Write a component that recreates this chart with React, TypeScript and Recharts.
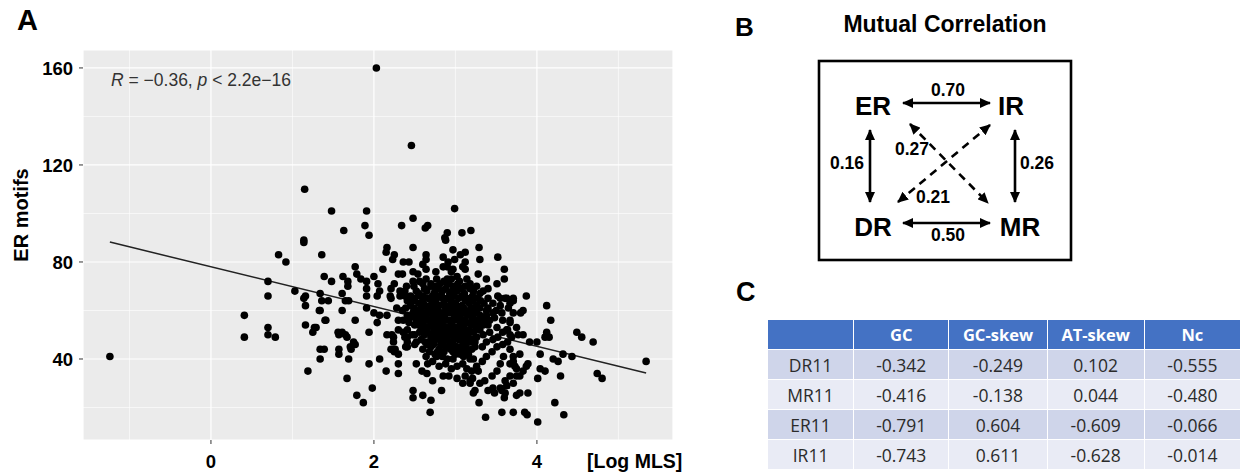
import React from 'react';
import { ScatterChart, Scatter, XAxis, YAxis, CartesianGrid, ReferenceLine } from 'recharts';

// panel A: ER motifs vs log MLS
const motifOutliers: [number, number][] = [
  [-1.24, 41], [2.03, 160], [2.46, 128], [1.15, 110], [1.48, 101], [1.91, 101], [1.63, 93], [1.89, 95],
  [1.94, 91], [2.34, 95], [2.48, 98], [1.14, 89], [2.99, 102], [2.63, 94], [2.66, 95], [2.90, 92],
  [3.08, 92], [3.19, 93], [2.87, 90], [5.34, 39],
];

const motifSpread: [number, number][] = [
  [0.83, 83], [0.92, 80], [0.70, 72], [0.70, 66], [0.41, 58], [0.41, 49], [0.70, 53], [0.70, 50],
  [0.79, 49], [1.03, 68], [1.14, 88], [1.16, 66], [1.14, 65], [1.16, 62], [1.16, 54], [1.27, 53],
  [1.25, 51], [1.19, 35], [1.34, 67], [1.36, 83], [1.39, 74], [1.48, 72], [1.34, 60], [1.36, 64],
  [1.44, 64], [1.41, 56], [1.34, 44], [1.39, 44], [1.34, 40], [1.57, 50], [1.65, 50], [1.67, 49],
  [1.57, 44], [1.57, 42], [1.69, 40], [1.72, 44], [1.77, 46], [1.67, 32], [1.79, 25], [1.87, 22],
  [1.77, 56], [1.61, 60], [1.61, 67], [1.62, 74], [1.68, 72], [1.68, 70], [1.69, 64], [1.65, 64],
  [1.77, 78], [1.79, 75], [1.84, 73], [1.91, 72], [1.91, 69], [1.91, 66], [1.91, 61], [1.94, 38],
  [1.94, 51], [1.98, 28], [2.00, 74], [2.04, 66], [2.05, 71], [2.07, 68], [2.00, 59], [2.07, 58],
  [2.04, 55], [2.07, 40], [2.15, 35], [2.11, 77], [2.16, 86], [2.15, 84], [2.16, 58], [2.16, 50],
  [2.21, 69], [2.21, 65], [2.25, 83], [2.23, 81], [2.24, 49], [2.30, 52], [2.21, 44], [2.26, 44],
  [2.30, 42], [2.30, 38], [2.30, 34], [2.30, 75], [2.35, 75], [2.36, 80], [2.43, 80], [2.32, 66],
  [2.38, 68], [2.39, 61], [2.41, 64], [2.36, 51], [2.41, 49], [2.39, 45], [2.48, 27], [2.48, 24],
  [2.48, 76], [2.48, 72], [2.48, 86], [2.52, 38], [2.50, 46], [2.64, 83], [2.64, 81], [2.64, 77],
  [2.85, 82], [2.88, 89], [2.54, 75], [2.25, 71], [2.49, 70], [2.64, 73], [2.77, 73], [2.81, 71],
  [2.75, 68], [2.90, 73], [2.90, 78], [2.20, 66], [2.32, 68], [2.38, 66], [2.60, 66], [2.72, 66],
  [2.83, 66], [2.97, 85], [3.12, 84], [3.06, 83], [2.99, 81], [3.29, 86], [3.30, 81], [3.52, 82],
  [2.97, 77], [3.09, 78], [3.12, 77], [3.60, 77], [3.60, 73], [3.28, 75], [3.38, 73], [3.51, 71],
  [3.40, 69], [3.02, 74], [3.03, 71], [2.97, 70], [3.12, 70], [3.18, 69], [3.26, 70], [3.08, 66],
  [3.21, 66], [3.34, 68], [3.52, 66], [3.61, 65], [3.71, 65], [3.87, 66], [4.12, 62], [4.17, 56],
  [4.12, 51], [4.10, 49], [4.15, 49], [4.49, 51], [4.55, 49], [4.69, 47], [3.91, 47], [3.83, 50],
  [3.67, 50], [4.04, 42], [4.20, 40], [4.26, 39], [4.32, 42], [4.43, 41], [4.74, 34], [4.80, 32],
  [4.04, 36], [4.10, 35], [4.01, 32], [4.29, 33], [4.22, 22], [4.33, 17], [4.01, 14], [3.88, 17],
  [3.85, 18], [3.71, 18], [3.57, 18], [3.37, 16], [3.29, 22], [3.22, 26], [2.69, 18], [2.70, 23],
  [2.60, 25], [2.83, 27], [3.75, 25], [3.89, 26], [3.79, 26], [3.60, 24], [3.61, 26], [3.83, 60],
  [3.80, 59], [3.67, 63], [3.71, 64], [3.55, 65], [3.63, 65], [3.67, 56], [3.75, 53], [3.64, 52],
  [3.79, 42], [3.71, 41], [3.73, 37], [3.83, 35], [3.89, 38], [3.75, 33], [3.67, 33], [3.61, 31],
  [3.55, 28], [3.46, 28], [2.85, 33], [2.92, 33], [3.02, 32], [3.09, 30], [3.18, 30], [3.21, 32],
  [2.72, 31], [2.59, 35], [2.65, 34], [2.77, 41], [2.72, 39], [2.22, 50], [2.25, 43], [2.30, 56],
  [2.41, 52], [2.38, 49], [2.47, 50], [2.41, 47], [2.41, 45], [2.52, 47], [2.24, 47], [2.56, 51],
  [2.59, 53], [2.63, 47], [2.41, 58], [2.48, 58], [2.50, 54], [1.61, 51], [1.75, 47], [1.71, 45],
  [1.29, 53], [1.33, 60], [1.40, 56], [1.56, 51], [3.77, 50], [3.87, 37], [3.79, 33], [3.67, 38],
  [3.75, 36], [3.71, 30], [3.63, 29], [3.57, 27], [3.48, 26], [3.40, 27], [3.71, 39], [3.67, 44],
  [3.59, 41], [3.55, 38], [3.51, 35], [3.45, 33], [3.36, 31], [3.30, 30], [3.24, 27], [3.18, 31],
  [3.12, 33], [3.20, 35], [3.26, 37], [3.33, 39], [3.38, 41], [3.45, 43], [3.51, 45], [3.58, 46],
  [3.64, 47], [3.69, 49], [3.09, 38], [3.18, 40], [3.06, 42], [3.14, 44], [3.24, 45], [3.33, 45],
  [3.38, 47], [3.46, 48], [3.52, 49], [3.58, 51], [3.63, 52], [3.67, 55], [3.58, 56], [3.57, 59],
  [3.65, 61], [3.55, 62], [3.51, 53], [3.42, 51], [3.34, 50], [3.26, 49], [3.18, 47], [3.09, 47],
  [3.02, 45], [2.97, 40], [2.95, 36], [3.42, 56], [3.34, 54], [3.26, 53], [3.18, 51], [3.09, 51],
  [3.46, 59], [3.38, 60], [3.30, 58], [3.21, 57], [3.14, 55], [3.06, 54], [3.71, 59], [4.00, 47],
  [3.12, 80], [2.91, 80], [2.85, 78], [2.60, 79], [2.76, 76], [2.95, 76],
];

const motifCore: [number, number][] = [
  [2.56, 72], [2.70, 71], [2.86, 72], [2.95, 73], [3.05, 72], [3.14, 73],
  [2.60, 71], [2.76, 70], [2.92, 71], [3.00, 70], [3.18, 71],
  [2.52, 68], [2.62, 69], [2.70, 70], [2.79, 69], [2.88, 69], [2.96, 68], [3.07, 69], [3.22, 68],
  [2.55, 67], [2.65, 68], [2.74, 67], [2.84, 68], [2.93, 67], [3.02, 68], [3.11, 67], [3.30, 67],
  [2.50, 65], [2.57, 66], [2.66, 65], [2.78, 66], [2.90, 65], [2.98, 66], [3.14, 65], [3.27, 65], [3.40, 65],
  [2.48, 64], [2.60, 64], [2.69, 65], [2.76, 64], [2.84, 65], [2.95, 64], [3.04, 65], [3.12, 64], [3.21, 64], [3.31, 64],
  [2.45, 62], [2.55, 63], [2.63, 62], [2.71, 63], [2.80, 62], [2.86, 63], [2.93, 62], [3.00, 63],
  [3.08, 62], [3.17, 63], [3.26, 62], [3.35, 63], [3.46, 63],
  [2.49, 61], [2.58, 61], [2.66, 61], [2.73, 62], [2.78, 61], [2.88, 61], [2.96, 61], [3.02, 61],
  [3.10, 61], [3.19, 61], [3.40, 61],
  [2.52, 60], [2.60, 59], [2.68, 60], [2.75, 60], [2.83, 59], [2.90, 60], [2.97, 59], [3.04, 60],
  [3.12, 60], [3.22, 60], [3.30, 61], [3.50, 60],
  [2.48, 59], [2.56, 58], [2.64, 58], [2.71, 59], [2.79, 58], [2.87, 58], [2.94, 59], [3.01, 58],
  [3.09, 59], [3.18, 59], [3.26, 59], [3.38, 58],
  [2.44, 57], [2.57, 57], [2.65, 56], [2.72, 57], [2.79, 56], [2.85, 57], [2.92, 56], [2.99, 57],
  [3.06, 57], [3.15, 58], [3.24, 56], [3.32, 57], [3.48, 57],
  [2.52, 56], [2.60, 55], [2.68, 56], [2.75, 55], [2.82, 55], [2.88, 56], [2.96, 55], [3.03, 56],
  [3.11, 56], [3.19, 55], [3.36, 56],
  [2.55, 54], [2.62, 53], [2.70, 54], [2.77, 53], [2.83, 54], [2.89, 53], [2.95, 54], [3.01, 53],
  [3.10, 54], [3.20, 54], [3.28, 55], [3.40, 54],
  [2.58, 52], [2.66, 53], [2.74, 52], [2.80, 53], [2.87, 52], [2.94, 52], [3.00, 52], [3.08, 52],
  [3.16, 52], [3.25, 53],
  [2.50, 50], [2.66, 51], [2.73, 50], [2.80, 51], [2.86, 50], [2.92, 51], [2.98, 50], [3.05, 51],
  [3.13, 50], [3.22, 51], [3.30, 52],
  [2.62, 50], [2.70, 49], [2.78, 49], [2.84, 49], [2.91, 50], [2.98, 49], [3.06, 49], [3.15, 49], [3.20, 48],
  [2.58, 48], [2.68, 47], [2.76, 48], [2.84, 47], [2.90, 48], [2.97, 47], [3.04, 48], [3.12, 48], [3.24, 47],
  [2.65, 46], [2.73, 46], [2.82, 46], [2.93, 46], [3.00, 45], [3.13, 46], [3.20, 44],
  [2.60, 44], [2.70, 45], [2.80, 44], [2.88, 45], [2.94, 44], [3.08, 45], [3.16, 42],
  [2.68, 43], [2.78, 43], [2.86, 43], [2.97, 43], [3.04, 43], [3.12, 43],
  [2.64, 41], [2.75, 42], [2.84, 41], [2.90, 40], [3.00, 42], [3.10, 41], [3.22, 40],
  [2.66, 38], [2.80, 37], [2.88, 38], [3.02, 37], [3.14, 36], [3.28, 35],
  [2.35, 60], [2.43, 55], [2.36, 56], [2.28, 61], [2.45, 66], [2.40, 70],
];

// linear fit drawn by ggplot (end points)
const fitLine = [
  { x: -1.24, y: 88.2 },
  { x: 5.34, y: 34.2 },
];

const xTicks = [0, 2, 4];
const yTicks = [40, 80, 120, 160];
const xMinor = [-1, 1, 3, 5];
const yMinor = [20, 60, 100, 140];

// panel B: mutual correlation
const corrPairs = [['ER', 'IR'], ['DR', 'MR'], ['ER', 'DR'], ['IR', 'MR'], ['ER', 'MR'], ['DR', 'IR']];
const corrValues = ['0.70', '0.50', '0.16', '0.26', '0.27', '0.21'];
const corrNodes = ['ER', 'IR', 'DR', 'MR'];

// panel C: table
const tableCols = ['GC', 'GC-skew', 'AT-skew', 'Nc'];
const tableRows = ['DR11', 'MR11', 'ER11', 'IR11'];
const gcVals = ['-0.342', '-0.416', '-0.791', '-0.743'];
const gcSkewVals = ['-0.249', '-0.138', '0.604', '0.611'];
const atSkewVals = ['0.102', '0.044', '-0.609', '-0.628'];
const ncVals = ['-0.555', '-0.480', '-0.066', '-0.014'];

const points = [...motifOutliers, ...motifSpread, ...motifCore].map(([x, y]) => ({ x, y }));

const dot = (p: any) => <circle cx={p.cx} cy={p.cy} r={3.8} fill="#000" />;

const arial = '"Liberation Sans", Arial, sans-serif';

function PanelA() {
  return (
    <div style={{ position: 'absolute', left: 0, top: 0 }}>
      <ScatterChart width={700} height={473} margin={{ top: 50, right: 27, left: 0, bottom: 0 }}>
        <CartesianGrid fill="#EBEBEB" stroke="#fff" strokeWidth={1.2} />
        {xMinor.map((v) => (
          <ReferenceLine key={'xm' + v} x={v} stroke="#fff" strokeWidth={0.6} />
        ))}
        {yMinor.map((v) => (
          <ReferenceLine key={'ym' + v} y={v} stroke="#fff" strokeWidth={0.6} />
        ))}
        <XAxis
          type="number"
          dataKey="x"
          domain={[-1.57, 5.67]}
          ticks={xTicks}
          allowDataOverflow
          axisLine={false}
          tickSize={4}
          tickMargin={11}
          height={33}
          tickLine={{ stroke: '#333' }}
          tick={{ fill: '#000', fontSize: 18.5, fontWeight: 700, fontFamily: arial }}
        />
        <YAxis
          type="number"
          dataKey="y"
          domain={[6.6, 167.4]}
          ticks={yTicks}
          allowDataOverflow
          axisLine={false}
          tickSize={4}
          tickMargin={6}
          width={83}
          tickLine={{ stroke: '#333' }}
          tick={{ fill: '#000', fontSize: 18.5, fontWeight: 700, fontFamily: arial }}
        />
        <Scatter data={points} shape={dot} isAnimationActive={false} />
        <ReferenceLine segment={fitLine} stroke="#222" strokeWidth={1.5} />
      </ScatterChart>
      <div style={{ position: 'absolute', left: 111, top: 70, fontFamily: arial, fontSize: 17.5, color: '#333', whiteSpace: 'nowrap' }}>
        <i>R</i> = −0.36, <i>p</i> &lt; 2.2e−16
      </div>
      <div
        style={{
          position: 'absolute', left: 21, top: 215, transform: 'translate(-50%, -50%) rotate(-90deg)',
          fontFamily: arial, fontWeight: 700, fontSize: 20, whiteSpace: 'nowrap',
        }}
      >
        ER motifs
      </div>
      <div style={{ position: 'absolute', left: 587, top: 450, fontFamily: arial, fontWeight: 700, fontSize: 19.5, whiteSpace: 'nowrap' }}>
        [Log MLS]
      </div>
    </div>
  );
}

// node / arrow layout for panel B (svg coords, origin at page x=700)
const nodeXY: Record<string, [number, number]> = { ER: [173, 106], IR: [311, 106], DR: [173, 227], MR: [320, 227] };
const arrowXY = [
  [203, 103, 290, 103],
  [203, 223, 290, 223],
  [170, 130, 170, 202],
  [315, 130, 315, 202],
  [210, 124, 288, 203],
  [198, 202, 290, 125],
];
const valueXY = [[248, 90], [248, 235], [147, 163], [337, 163], [212, 149], [233, 197]];

function PanelB() {
  return (
    <svg width={544} height={280} style={{ position: 'absolute', left: 700, top: 0 }}>
      <defs>
        <marker id="head" markerWidth={11} markerHeight={10} refX={10} refY={5} orient="auto-start-reverse" markerUnits="userSpaceOnUse">
          <path d="M0,0 L11,5 L0,10 z" fill="#000" />
        </marker>
      </defs>
      <rect x={119} y={61} width={252} height={199} fill="none" stroke="#000" strokeWidth={2.6} />
      {corrPairs.map((pair, i) => {
        const [x1, y1, x2, y2] = arrowXY[i];
        return (
          <line
            key={pair.join('-')}
            x1={x1} y1={y1} x2={x2} y2={y2}
            stroke="#000" strokeWidth={2.6}
            strokeDasharray={i >= 4 ? '8 6' : undefined}
            markerStart="url(#head)" markerEnd="url(#head)"
          />
        );
      })}
      {corrNodes.map((n) => (
        <text key={n} x={nodeXY[n][0]} y={nodeXY[n][1]} textAnchor="middle" dominantBaseline="central"
          fontFamily={arial} fontWeight={700} fontSize={26}>
          {n}
        </text>
      ))}
      {corrValues.map((v, i) => (
        <text key={i} x={valueXY[i][0]} y={valueXY[i][1]} textAnchor="middle" dominantBaseline="central"
          fontFamily={arial} fontWeight={700} fontSize={17.5}>
          {v}
        </text>
      ))}
    </svg>
  );
}

function PanelC() {
  const cols = [gcVals, gcSkewVals, atSkewVals, ncVals];
  const widths = [86, 95, 98, 97, 96];
  const cell: React.CSSProperties = {
    border: '1px solid #fff', padding: 0, textAlign: 'center', height: 29,
  };
  return (
    <table
      style={{
        position: 'absolute', left: 767, top: 319, width: 474, borderCollapse: 'collapse',
        fontFamily: '"Open Sans", "Noto Sans", sans-serif', fontSize: 17.5, color: '#2b2b2b', tableLayout: 'fixed',
      }}
    >
      <colgroup>
        {widths.map((w, i) => <col key={i} style={{ width: w }} />)}
      </colgroup>
      <thead>
        <tr style={{ background: '#4472C4', color: '#fff', fontWeight: 700, fontSize: 16.5 }}>
          <th style={cell}></th>
          {tableCols.map((c) => <th key={c} style={cell}>{c}</th>)}
        </tr>
      </thead>
      <tbody>
        {tableRows.map((r, ri) => (
          <tr key={r} style={{ background: ri % 2 === 0 ? '#CFD5EA' : '#E9EBF5', height: 30 }}>
            <td style={cell}>{r}</td>
            {cols.map((c, ci) => <td key={ci} style={cell}>{c[ri]}</td>)}
          </tr>
        ))}
      </tbody>
    </table>
  );
}

export default function App() {
  return (
    <div style={{ position: 'absolute', left: 0, top: 0, width: 1244, height: 473, background: '#fff', overflow: 'hidden' }}>
      <div style={{ position: 'absolute', left: 17, top: 4, fontFamily: arial, fontWeight: 700, fontSize: 29 }}>A</div>
      <div style={{ position: 'absolute', left: 735, top: 12, fontFamily: arial, fontWeight: 700, fontSize: 26 }}>B</div>
      <div style={{ position: 'absolute', left: 945, top: 24, transform: 'translate(-50%, -50%)', fontFamily: arial, fontWeight: 700, fontSize: 23, whiteSpace: 'nowrap' }}>
        Mutual Correlation
      </div>
      <div style={{ position: 'absolute', left: 736, top: 277, fontFamily: arial, fontWeight: 700, fontSize: 27 }}>C</div>
      <PanelA />
      <PanelB />
      <PanelC />
    </div>
  );
}
